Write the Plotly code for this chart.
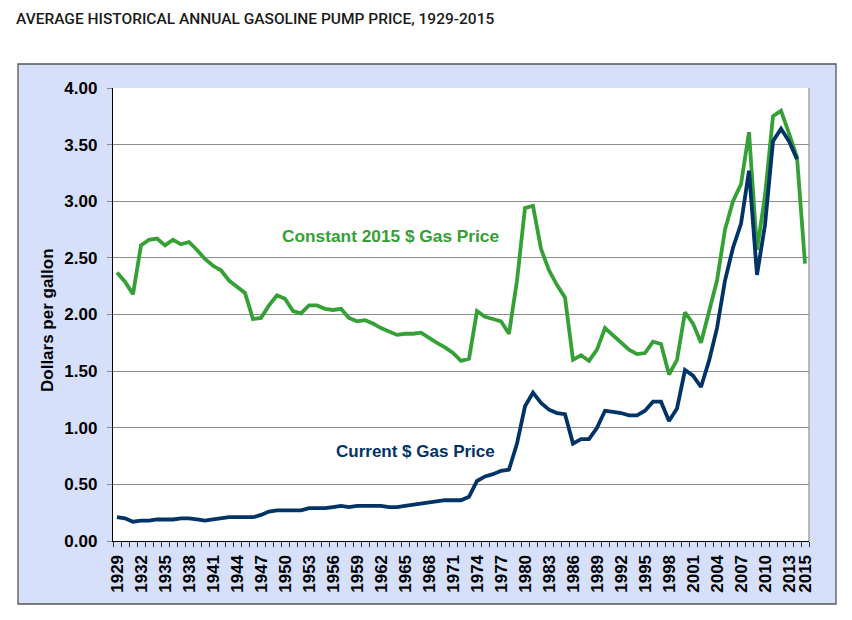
import plotly.graph_objects as go

years = list(range(1929, 2016))

current_price = [
    0.21, 0.20, 0.17, 0.18, 0.18, 0.19, 0.19, 0.19, 0.20, 0.20,  # 1929-1938
    0.19, 0.18, 0.19, 0.20, 0.21, 0.21, 0.21, 0.21, 0.23, 0.26,  # 1939-1948
    0.27, 0.27, 0.27, 0.27, 0.29, 0.29, 0.29, 0.30, 0.31, 0.30,  # 1949-1958
    0.31, 0.31, 0.31, 0.31, 0.30, 0.30, 0.31, 0.32, 0.33, 0.34,  # 1959-1968
    0.35, 0.36, 0.36, 0.36, 0.39, 0.53, 0.57, 0.59, 0.62, 0.63,  # 1969-1978
    0.86, 1.19, 1.31, 1.22, 1.16, 1.13, 1.12, 0.86, 0.90, 0.90,  # 1979-1988
    1.00, 1.15, 1.14, 1.13, 1.11, 1.11, 1.15, 1.23, 1.23, 1.06,  # 1989-1998
    1.17, 1.51, 1.46, 1.36, 1.59, 1.88, 2.30, 2.59, 2.80, 3.27,  # 1999-2008
    2.35, 2.79, 3.53, 3.64, 3.53, 3.37, None,                    # 2009-2015
]

constant_2015_price = [
    2.37, 2.29, 2.18, 2.61, 2.66, 2.67, 2.61, 2.66, 2.62, 2.64,  # 1929-1938
    2.57, 2.49, 2.43, 2.39, 2.30, 2.25, 2.19, 1.96, 1.97, 2.08,  # 1939-1948
    2.17, 2.14, 2.03, 2.01, 2.08, 2.08, 2.05, 2.04, 2.05, 1.97,  # 1949-1958
    1.94, 1.95, 1.92, 1.88, 1.85, 1.82, 1.83, 1.83, 1.84, 1.79,  # 1959-1968
    1.75, 1.71, 1.66, 1.59, 1.61, 2.03, 1.98, 1.96, 1.94, 1.83,  # 1969-1978
    2.30, 2.94, 2.96, 2.58, 2.39, 2.26, 2.15, 1.60, 1.64, 1.59,  # 1979-1988
    1.69, 1.88, 1.82, 1.76, 1.69, 1.65, 1.66, 1.76, 1.74, 1.47,  # 1989-1998
    1.60, 2.02, 1.92, 1.75, 2.01, 2.30, 2.75, 3.00, 3.15, 3.61,  # 1999-2008
    2.57, 3.05, 3.75, 3.80, 3.60, 3.39, 2.45,                    # 2009-2015
]

tick_years = list(range(1929, 2014, 3)) + [2015]
tick_labels = [str(y) for y in tick_years]

y_ticks = [0, 0.5, 1.0, 1.5, 2.0, 2.5, 3.0, 3.5, 4.0]

GREEN = "#35a035"
NAVY = "#003366"
FONT = "Liberation Sans, Arial, sans-serif"

# page offset (browser body margin)
OX, OY = 8, 8
W, H = 852, 620
L = 113 - OX
T = 88 - OY
R = W - (809 - OX)
B = H - (541 - OY)
pw, ph = W - L - R, H - T - B


def px_to_paper_x(px):
    return (px - OX - L) / pw


def px_to_paper_y(py):
    return (H - B - (py - OY)) / ph


fig = go.Figure()

fig.add_trace(go.Scatter(
    x=years, y=constant_2015_price, mode="lines",
    line=dict(color=GREEN, width=3.8), name="Constant 2015 $ Gas Price",
    hoverinfo="x+y",
))
fig.add_trace(go.Scatter(
    x=years, y=current_price, mode="lines",
    line=dict(color=NAVY, width=3.8), name="Current $ Gas Price",
    hoverinfo="x+y",
))

fig.update_layout(
    width=W, height=H,
    margin=dict(l=L, r=R, t=T, b=B, pad=0),
    paper_bgcolor="white",
    plot_bgcolor="white",
    showlegend=False,
    font=dict(family=FONT, color="#000000"),
    xaxis=dict(
        range=[1928.5, 2015.5],
        tickmode="array", tickvals=tick_years, ticktext=tick_labels,
        tickangle=-90, ticks="",
        tickfont=dict(family=FONT, size=17, color="#000000", weight="bold"),
        showgrid=False, zeroline=False,
        showline=True, linecolor="#000000", linewidth=1.3,
        ticklabelstandoff=6,
        minor=dict(tickmode="linear", tick0=1928.5, dtick=1, ticks="outside",
                   ticklen=5, tickcolor="#333333", tickwidth=1, showgrid=False),
    ),
    yaxis=dict(
        range=[0, 4], tickmode="array", tickvals=y_ticks,
        tickformat=".2f",
        ticks="outside", ticklen=5, tickcolor="#888888", tickwidth=1,
        tickfont=dict(family=FONT, size=17, color="#000000", weight="bold"),
        showgrid=True, gridcolor="#8c8c8c", gridwidth=1.3,
        zeroline=False,
        showline=True, linecolor="#000000", linewidth=1.3,
        ticklabelstandoff=6,
    ),
    shapes=[
        dict(type="rect", xref="paper", yref="paper", layer="below",
             x0=px_to_paper_x(18), x1=px_to_paper_x(836),
             y0=px_to_paper_y(604), y1=px_to_paper_y(64),
             fillcolor="#d6e0fb", line=dict(color="#555555", width=1.3)),
        dict(type="rect", xref="paper", yref="paper", layer="below",
             x0=0, x1=1, y0=0, y1=1,
             fillcolor="white", line=dict(width=0)),
        dict(type="line", xref="paper", yref="paper", layer="above",
             x0=1, x1=1, y0=0, y1=1,
             line=dict(color="#999999", width=1.3)),
    ],
    annotations=[
        dict(text="AVERAGE HISTORICAL ANNUAL GASOLINE PUMP PRICE, 1929-2015",
             xref="paper", yref="paper",
             x=px_to_paper_x(15), y=px_to_paper_y(OY + 0.5),
             xanchor="left", yanchor="top", showarrow=False,
             borderpad=0,
             font=dict(family="Roboto, sans-serif", size=15.5,
                       color="#1a1a1a", weight=500)),
        dict(text="Dollars per gallon", xref="paper", yref="paper",
             x=px_to_paper_x(47), y=px_to_paper_y(320),
             xanchor="center", yanchor="middle", textangle=-90,
             showarrow=False,
             font=dict(family=FONT, size=17, color="#000000", weight="bold")),
        dict(text="Constant 2015 $ Gas Price", xref="x", yref="y",
             x=1963.2, y=2.69, xanchor="center", yanchor="middle",
             showarrow=False,
             font=dict(family=FONT, size=17.3, color=GREEN, weight="bold")),
        dict(text="Current $ Gas Price", xref="x", yref="y",
             x=1966.3, y=0.79, xanchor="center", yanchor="middle",
             showarrow=False,
             font=dict(family=FONT, size=17, color=NAVY, weight="bold")),
    ],
)

fig.write_html("out.html")
